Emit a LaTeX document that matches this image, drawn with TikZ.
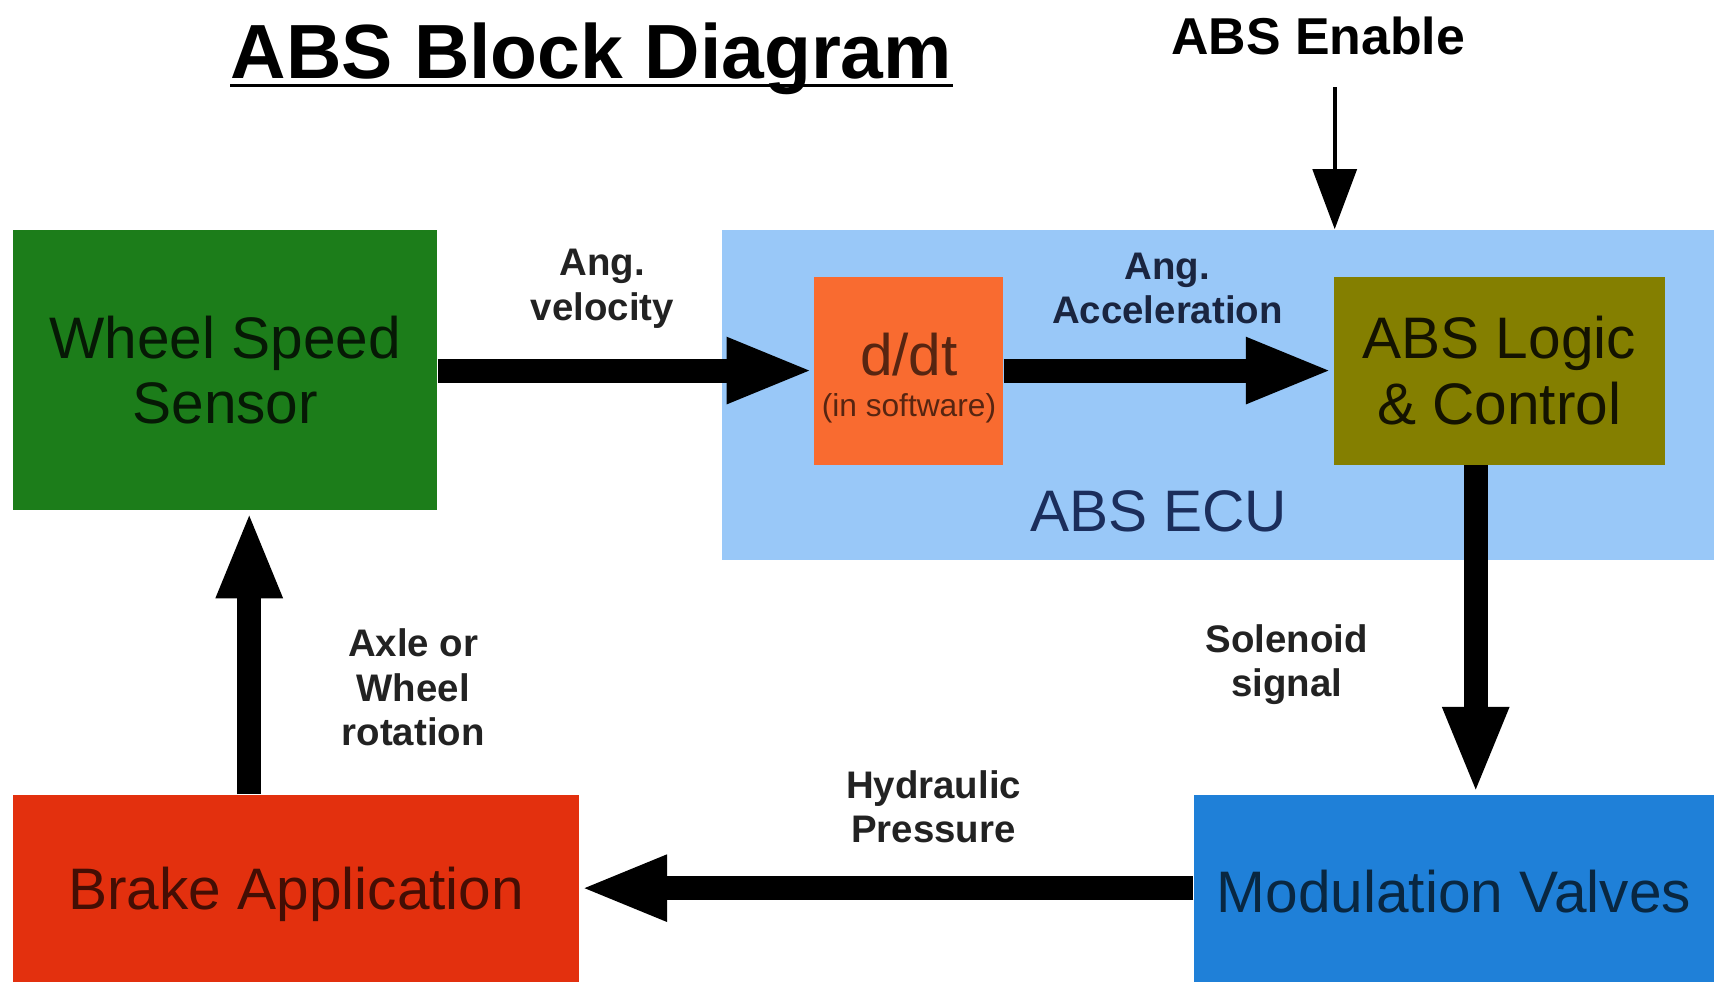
\documentclass[tikz,border=0pt]{standalone}
\usepackage{fontspec}
\setmainfont{Liberation Sans}
\usetikzlibrary{arrows.meta,calc}
\definecolor{wssgreen}{HTML}{1C7D1A}
\definecolor{ecublue}{HTML}{99C8F8}
\definecolor{ddtorange}{HTML}{F96B30}
\definecolor{logicolive}{HTML}{847F00}
\definecolor{modblue}{HTML}{1F80D8}
\definecolor{brakered}{HTML}{E3300E}
\definecolor{labelgray}{HTML}{222222}
\definecolor{ecutextcol}{HTML}{1B2E5C}
\definecolor{acclabel}{HTML}{1A2540}
\tikzset{
  block/.style={rectangle, inner sep=0pt, align=center, font=\fontsize{30.5}{34}\selectfont},
  flowlabel/.style={align=center, text=labelgray, inner sep=0pt, font=\bfseries\fontsize{20}{23.2}\selectfont},
  bigarrow/.style={line width=0.44cm, -{Triangle[length=1.6cm,width=1.1cm]}},
  thinarrow/.style={line width=0.08cm, -{Triangle[length=1.1cm,width=0.8cm]}}
}
\begin{document}
\begin{tikzpicture}[x=0.02cm,y=-0.02cm]
\useasboundingbox[fill=white] (0,0) rectangle (1568,898);
% title
\node[inner sep=0pt, anchor=base, font=\bfseries\fontsize{40}{44}\selectfont] (title) at (541,72) {ABS Block Diagram};
\draw[line width=0.06cm] ([yshift=-0.12cm]title.base west) -- ([yshift=-0.12cm]title.base east);
\node[inner sep=0pt, anchor=base, font=\bfseries\fontsize{27}{30}\selectfont] (enable) at (1206,50) {ABS Enable};
% blocks
\node[block, fill=wssgreen, text=black!80!wssgreen, minimum width=7.76cm, minimum height=5.14cm] (wss) at (206,338.5) {Wheel Speed\\Sensor};
\node[block, fill=ecublue, minimum width=18.16cm, minimum height=6.04cm] (ecu) at (1114,361) {};
\node[inner sep=0pt, text=ecutextcol, font=\fontsize{30.5}{34}\selectfont] (ecutext) at (1060,468) {ABS ECU};
\node[block, fill=ddtorange, text=black!65!ddtorange, minimum width=3.46cm, minimum height=3.44cm] (ddt) at (831.5,339) {\rule{0pt}{30pt}d/dt\\[-12.5pt]{\fontsize{16.5}{18}\selectfont (in software)}};
\node[block, fill=logicolive, text=black!85!logicolive, minimum width=6.06cm, minimum height=3.44cm] (logic) at (1371.5,339) {ABS Logic\\\& Control};
\node[block, fill=modblue, text=black!70!modblue, text height=0.9cm, text depth=0cm, minimum width=9.52cm, minimum height=3.42cm] (mod) at (1330,812.5) {Modulation Valves};
\node[block, fill=brakered, text=black!70!brakered, text height=1.0cm, text depth=0.23cm, minimum width=10.36cm, minimum height=3.42cm] (brake) at (271,812.5) {Brake Application};
% labels
\node[flowlabel] (lvel) at (551,264) {Ang.\\velocity};
\node[flowlabel, text=acclabel] (lacc) at (1068,264) {Ang.\\Acceleration};
\node[flowlabel] (lsol) at (1177,608) {Solenoid\\signal};
\node[flowlabel] (lhyd) at (854,738) {Hydraulic\\Pressure};
\node[flowlabel] (laxle) at (378,629) {Axle or\\Wheel\\rotation};
% helper coordinates
\coordinate (enabletop) at (1221,80);
\coordinate (solx) at (1350,0);
\coordinate (axlex) at (228,0);
% connectors
\draw[thinarrow] (enabletop) -- (enabletop |- ecu.north);
\draw[bigarrow] (wss.east |- ddt.west) -- (ddt.west);
\draw[bigarrow] (ddt.east) -- (logic.west);
\draw[bigarrow] (logic.south -| solx) -- (mod.north -| solx);
\draw[bigarrow] (mod.west) -- (brake.east);
\draw[bigarrow] (brake.north -| axlex) -- (wss.south -| axlex);
\end{tikzpicture}
\end{document}
